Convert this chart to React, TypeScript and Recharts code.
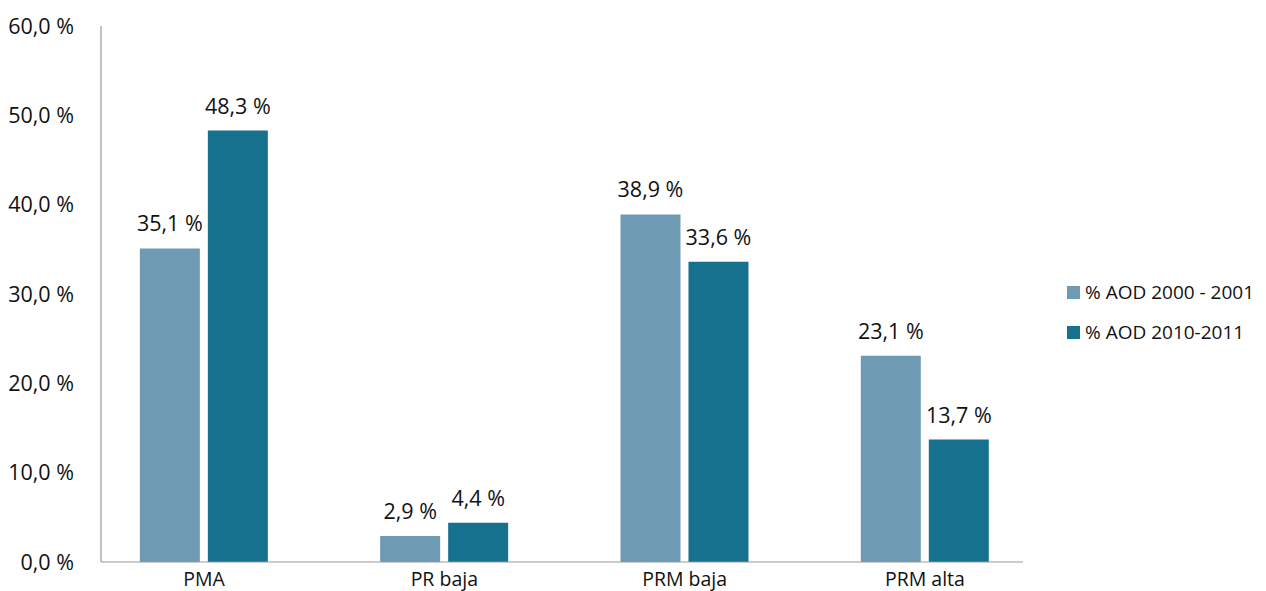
import { Bar, BarChart, LabelList, XAxis, YAxis } from 'recharts'

const categories = ['PMA', 'PR baja', 'PRM baja', 'PRM alta']
const aod2000 = [35.1, 2.9, 38.9, 23.1]
const aod2010 = [48.3, 4.4, 33.6, 13.7]
const yTicks = [0, 10, 20, 30, 40, 50, 60]
const seriesNames = ['% AOD 2000 - 2001', '% AOD 2010-2011']
const colors = ['#6e9ab4', '#16718f']

const data = categories.map((name, i) => ({
  idx: i,
  name,
  a: aod2000[i],
  b: aod2010[i],
}))

const font = "'Open Sans', sans-serif"
const fmt = (v: number) => `${v.toFixed(1).replace('.', ',')} %`

const LegendBox = () => (
  <div
    style={{
      position: 'absolute',
      left: 1059,
      top: 264,
      fontFamily: font,
      fontSize: 19,
      color: '#111',
      whiteSpace: 'nowrap',
    }}
  >
    {seriesNames.map((s, i) => (
      <div key={s} style={{ display: 'flex', alignItems: 'center', height: 40 }}>
        <span style={{ width: 13, height: 13, background: colors[i], marginRight: 5 }} />
        <span>{s}</span>
      </div>
    ))}
  </div>
)

export default function App() {
  return (
    <div style={{ position: 'relative', width: 1250, height: 583, background: '#fff' }}>
      <BarChart
        width={1250}
        height={583}
        data={data}
        margin={{ top: 18, right: 235, bottom: 0, left: 0 }}
        barSize={60}
        barGap={8}
        style={{ overflow: 'visible' }}
      >
        <XAxis
          dataKey={'idx'}
          type={'number'}
          domain={[-0.4286, 3.408]}
          ticks={[0, 1, 2, 3]}
          interval={0}
          tickFormatter={(v: number) => categories[v]}
          height={29}
          tickLine={false}
          tickSize={0}
          tickMargin={10}
          stroke={'#999'}
          tick={{ fill: '#111', fontSize: 19.5, fontFamily: font }}
          allowDataOverflow
        />
        <YAxis
          width={93}
          domain={[0, 60]}
          ticks={yTicks}
          tickFormatter={fmt}
          tickLine={false}
          tickSize={0}
          tickMargin={27}
          stroke={'#888'}
          tick={{ fill: '#111', fontSize: 21.5, fontFamily: font }}
        />
        <Bar dataKey={'a'} name={seriesNames[0]} fill={colors[0]} isAnimationActive={false}>
          <LabelList
            dataKey={'a'}
            position={'top'}
            offset={17}
            formatter={(v: any) => fmt(Number(v))}
            style={{ fill: '#111', fontSize: 21.5, fontFamily: font }}
          />
        </Bar>
        <Bar dataKey={'b'} name={seriesNames[1]} fill={colors[1]} isAnimationActive={false}>
          <LabelList
            dataKey={'b'}
            position={'top'}
            offset={17}
            formatter={(v: any) => fmt(Number(v))}
            style={{ fill: '#111', fontSize: 21.5, fontFamily: font }}
          />
        </Bar>
      </BarChart>
      <LegendBox />
    </div>
  )
}
